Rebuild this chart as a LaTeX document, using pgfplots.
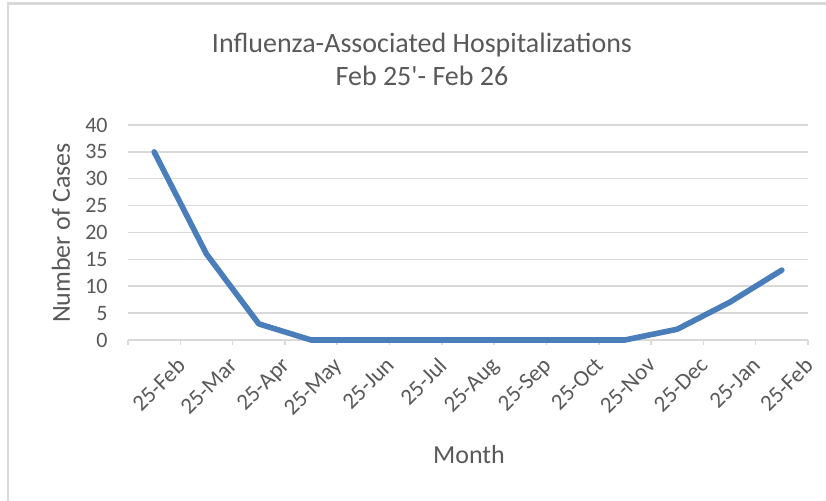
\documentclass[border=0pt]{standalone}
\usepackage{pgfplots}
\pgfplotsset{compat=1.18}
\usepackage{fontspec}
\setmainfont{Carlito}[Ligatures=TeXOff]
\definecolor{txt}{HTML}{595959}
\definecolor{gridc}{HTML}{D9D9D9}
\definecolor{linec}{HTML}{4A7EBB}
\begin{document}
\begin{tikzpicture}[x=0.5pt,y=0.5pt]
\path[use as bounding box] (0,0) rectangle (826,501);
\draw[gridc, line width=1.2pt] (8,0) -- (8,497.5) -- (826,497.5);
\node[text=txt, font=\fontsize{14}{16}\selectfont] at (422,456) {Influenza-Associated Hospitalizations};
\node[text=txt, font=\fontsize{14}{16}\selectfont] at (422,425) {Feb 25'- Feb 26};
\node[text=txt, font=\fontsize{13}{15}\selectfont, rotate=90] at (61,268) {Number of Cases};
\node[text=txt, font=\fontsize{13}{15}\selectfont] at (469,46) {Month};
\begin{axis}[
 at={(64pt,80.5pt)}, anchor=south west, scale only axis,
 width=340pt, height=107.5pt,
 xmin=-0.5, xmax=12.5, ymin=0, ymax=40,
 xtick={0,...,12},
 xticklabels={25-Feb,25-Mar,25-Apr,25-May,25-Jun,25-Jul,25-Aug,25-Sep,25-Oct,25-Nov,25-Dec,25-Jan,25-Feb},
 minor xtick={-0.5,0.5,...,12.5},
 ytick={0,5,...,40},
 /pgf/number format/assume math mode=true,
 axis x line=bottom, axis y line=left,
 axis line style={-},
 x axis line style={draw=gridc, line width=0.75pt},
 y axis line style={draw=none},
 major tick length=0pt, minor tick length=2.5pt,
 tick style={gridc, line width=0.75pt},
 tick align=outside,
 ymajorgrids, grid style={gridc, line width=0.75pt},
 xticklabel style={rotate=45, anchor=north east, inner sep=0pt, xshift=2pt, yshift=-13pt, font=\fontsize{11.5}{13}\selectfont, text=txt},
 yticklabel style={anchor=east, inner sep=0pt, xshift=-10pt, font=\fontsize{11}{13}\selectfont, text=txt},
 clip=false,
]
\addplot[linec, line width=2.8pt, line join=round, line cap=round] coordinates {
 (0,35) (1,16) (2,3) (3,0) (4,0) (5,0) (6,0) (7,0) (8,0) (9,0) (10,2) (11,7) (12,13)
};
\end{axis}
\end{tikzpicture}
\end{document}
